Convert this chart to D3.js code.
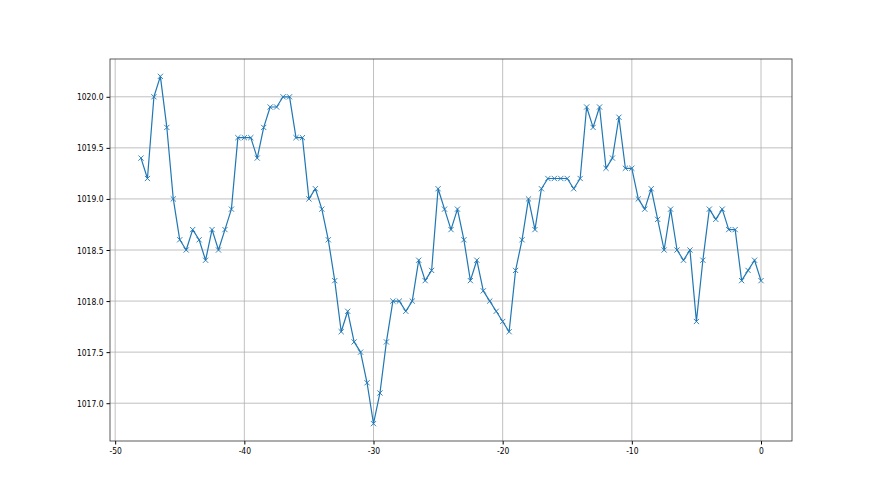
<!DOCTYPE html>
<html>
<head>
<meta charset="utf-8">
<script src="https://cdn.jsdelivr.net/npm/d3@7"></script>
<style>
  body { margin: 0; background: #fff; }
  svg text { font-family: "DejaVu Sans", sans-serif; }
</style>
</head>
<body>
<div id="chart"></div>
<script>
// hours relative to now, and pressure readings
const hours = [
  -48, -47.5, -47, -46.5, -46, -45.5, -45, -44.5, -44, -43.5,
  -43, -42.5, -42, -41.5, -41, -40.5, -40, -39.5, -39, -38.5,
  -38, -37.5, -37, -36.5, -36, -35.5, -35, -34.5, -34, -33.5,
  -33, -32.5, -32, -31.5, -31, -30.5, -30, -29.5, -29, -28.5,
  -28, -27.5, -27, -26.5, -26, -25.5, -25, -24.5, -24, -23.5,
  -23, -22.5, -22, -21.5, -21, -20.5, -20, -19.5, -19, -18.5,
  -18, -17.5, -17, -16.5, -16, -15.5, -15, -14.5, -14, -13.5,
  -13, -12.5, -12, -11.5, -11, -10.5, -10, -9.5, -9, -8.5,
  -8, -7.5, -7, -6.5, -6, -5.5, -5, -4.5, -4, -3.5,
  -3, -2.5, -2, -1.5, -1, -0.5, 0
];
const pressure = [
  1019.4, 1019.2, 1020.0, 1020.2, 1019.7, 1019.0, 1018.6, 1018.5, 1018.7, 1018.6,
  1018.4, 1018.7, 1018.5, 1018.7, 1018.9, 1019.6, 1019.6, 1019.6, 1019.4, 1019.7,
  1019.9, 1019.9, 1020.0, 1020.0, 1019.6, 1019.6, 1019.0, 1019.1, 1018.9, 1018.6,
  1018.2, 1017.7, 1017.9, 1017.6, 1017.5, 1017.2, 1016.8, 1017.1, 1017.6, 1018.0,
  1018.0, 1017.9, 1018.0, 1018.4, 1018.2, 1018.3, 1019.1, 1018.9, 1018.7, 1018.9,
  1018.6, 1018.2, 1018.4, 1018.1, 1018.0, 1017.9, 1017.8, 1017.7, 1018.3, 1018.6,
  1019.0, 1018.7, 1019.1, 1019.2, 1019.2, 1019.2, 1019.2, 1019.1, 1019.2, 1019.9,
  1019.7, 1019.9, 1019.3, 1019.4, 1019.8, 1019.3, 1019.3, 1019.0, 1018.9, 1019.1,
  1018.8, 1018.5, 1018.9, 1018.5, 1018.4, 1018.5, 1017.8, 1018.4, 1018.9, 1018.8,
  1018.9, 1018.7, 1018.7, 1018.2, 1018.3, 1018.4, 1018.2
];
const xTicks = [-50, -40, -30, -20, -10, 0];
const yTicks = [1017.0, 1017.5, 1018.0, 1018.5, 1019.0, 1019.5, 1020.0];

const data = hours.map((h, i) => ({ h: h, p: pressure[i] }));

// chart dimensions
const width = 880;
const height = 495;
const marginTop = 59;
const marginRight = 88;
const marginBottom = 54;
const marginLeft = 110;

const color = "#1f77b4";
const fontSize = 9.5;
const squeeze = 0.8; // tick labels in the picture are narrow

// matplotlib-style 5% padding
const xPad = (d3.max(hours) - d3.min(hours)) * 0.05;
const yPad = (d3.max(pressure) - d3.min(pressure)) * 0.05;

const x = d3.scaleLinear([d3.min(hours) - xPad, d3.max(hours) + xPad],
                         [marginLeft, width - marginRight]);
const y = d3.scaleLinear([d3.min(pressure) - yPad, d3.max(pressure) + yPad],
                         [height - marginBottom, marginTop]);

const svg = d3.select("#chart").append("svg")
  .attr("width", width)
  .attr("height", height)
  .attr("viewBox", [0, 0, width, height]);

// grid lines
svg.append("g")
  .selectAll("line")
  .data(xTicks)
  .join("line")
    .attr("x1", d => x(d)).attr("x2", d => x(d))
    .attr("y1", marginTop).attr("y2", height - marginBottom)
    .attr("stroke", "#b0b0b0")
    .attr("stroke-width", 0.8);

svg.append("g")
  .selectAll("line")
  .data(yTicks)
  .join("line")
    .attr("x1", marginLeft).attr("x2", width - marginRight)
    .attr("y1", d => y(d)).attr("y2", d => y(d))
    .attr("stroke", "#b0b0b0")
    .attr("stroke-width", 0.8);

// x axis
svg.append("g")
  .attr("transform", `translate(0,${height - marginBottom})`)
  .call(d3.axisBottom(x).tickValues(xTicks).tickFormat(d => String(d))
        .tickSize(3.5).tickPadding(3).tickSizeOuter(0))
  .call(g => g.select(".domain").remove())
  .call(g => g.selectAll("text")
      .attr("font-size", fontSize)
      .attr("font-family", "DejaVu Sans")
      .attr("fill", "#000")
      .attr("transform", `scale(${squeeze},1)`));

// y axis
svg.append("g")
  .attr("transform", `translate(${marginLeft},0)`)
  .call(d3.axisLeft(y).tickValues(yTicks).tickFormat(d3.format(".1f"))
        .tickSize(3.5).tickPadding(3).tickSizeOuter(0))
  .call(g => g.select(".domain").remove())
  .call(g => g.selectAll("text")
      .attr("font-size", fontSize)
      .attr("font-family", "DejaVu Sans")
      .attr("fill", "#000")
      .attr("transform", `translate(-6.5,0) scale(${squeeze},1) translate(6.5,0)`));

// frame
svg.append("rect")
  .attr("x", marginLeft)
  .attr("y", marginTop)
  .attr("width", width - marginLeft - marginRight)
  .attr("height", height - marginTop - marginBottom)
  .attr("fill", "none")
  .attr("stroke", "#333")
  .attr("stroke-width", 0.8);

// line
const line = d3.line()
  .x(d => x(d.h))
  .y(d => y(d.p));

svg.append("path")
  .datum(data)
  .attr("fill", "none")
  .attr("stroke", color)
  .attr("stroke-width", 1.2)
  .attr("stroke-linejoin", "round")
  .attr("d", line);

// x markers
const m = 2.6;
svg.append("g")
  .selectAll("path")
  .data(data)
  .join("path")
    .attr("d", d => {
      const cx = x(d.h), cy = y(d.p);
      return `M${cx - m},${cy - m}L${cx + m},${cy + m}M${cx - m},${cy + m}L${cx + m},${cy - m}`;
    })
    .attr("stroke", color)
    .attr("stroke-width", 0.9)
    .attr("fill", "none");
</script>
</body>
</html>
